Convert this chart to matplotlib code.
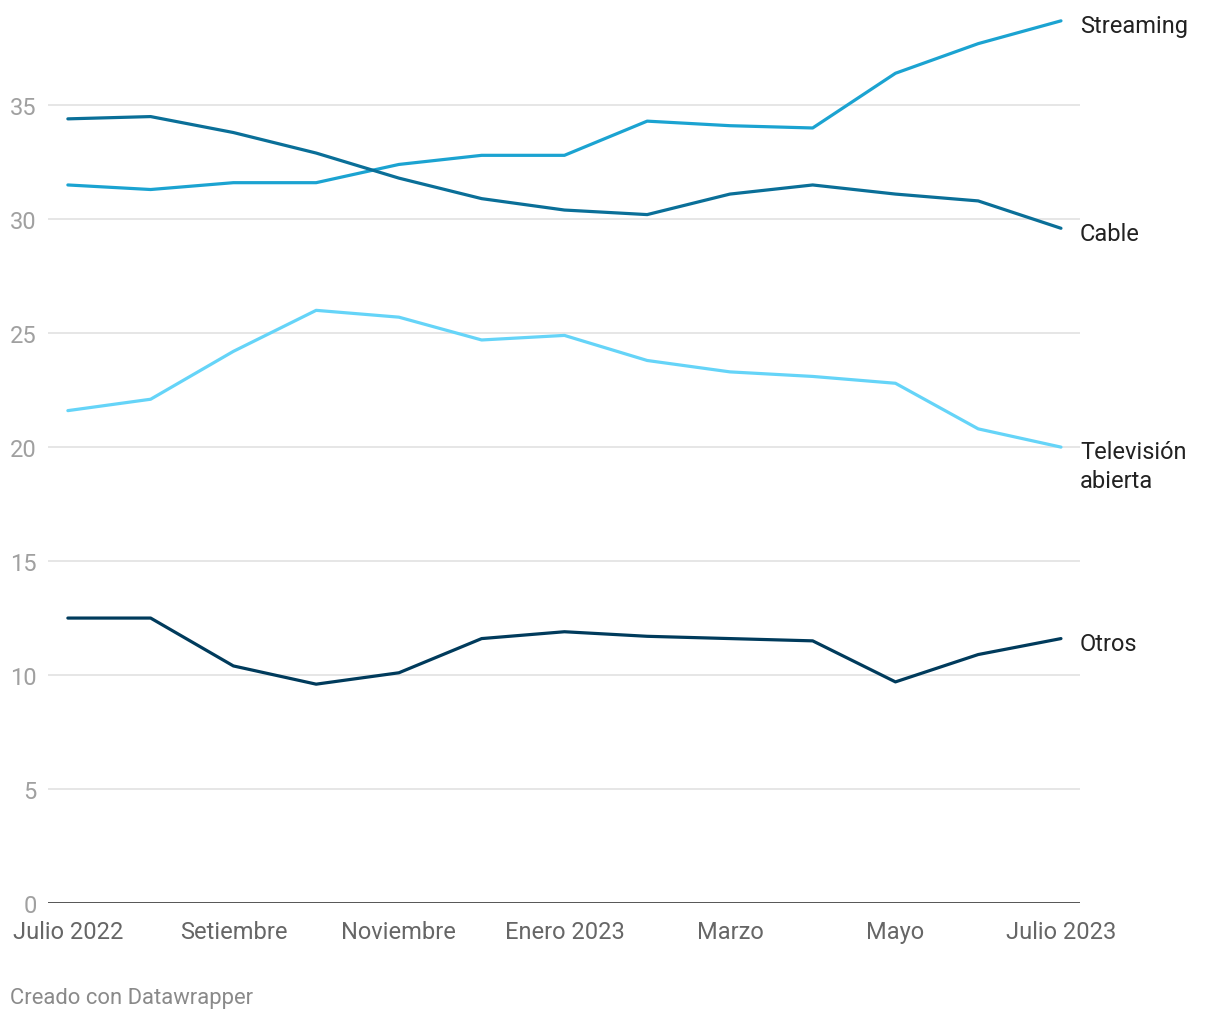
import matplotlib
matplotlib.use("Agg")
import matplotlib.pyplot as plt
import numpy as np

plt.rcParams['font.family'] = ['Roboto', 'DejaVu Sans']

months = ["Julio 2022", "Ago", "Setiembre", "Oct", "Noviembre", "Dic", "Enero 2023",
          "Feb", "Marzo", "Abr", "Mayo", "Jun", "Julio 2023"]
tick_idx = [0, 2, 4, 6, 8, 10, 12]

streaming = [31.5, 31.3, 31.6, 31.6, 32.4, 32.8, 32.8, 34.3, 34.1, 34.0, 36.4, 37.7, 38.7]
cable = [34.4, 34.5, 33.8, 32.9, 31.8, 30.9, 30.4, 30.2, 31.1, 31.5, 31.1, 30.8, 29.6]
tv_abierta = [21.6, 22.1, 24.2, 26.0, 25.7, 24.7, 24.9, 23.8, 23.3, 23.1, 22.8, 20.8, 20.0]
otros = [12.5, 12.5, 10.4, 9.6, 10.1, 11.6, 11.9, 11.7, 11.6, 11.5, 9.7, 10.9, 11.6]

series = [
    ("Streaming", streaming, "#1ba3d1"),
    ("Cable", cable, "#0a6f98"),
    ("Televisión\nabierta", tv_abierta, "#65d4f8"),
    ("Otros", otros, "#003b5c"),
]

fig = plt.figure(figsize=(12.2, 10.2), dpi=100)
ax = fig.add_axes([48/1220, 1-904/1020, (1080-48)/1220, 889/1020])

x = np.arange(len(months))
for name, vals, col in series:
    ax.plot(x, vals, color=col, lw=2.3, solid_capstyle='round', solid_joinstyle='round', zorder=3)
    if "\n" in name:
        ax.annotate(name, xy=(x[-1], vals[-1]), xytext=(13.7, 5), textcoords='offset points',
                    ha='left', va='top', fontsize=17, color='#222222', linespacing=1.32,
                    annotation_clip=False)
    else:
        ax.annotate(name, xy=(x[-1], vals[-1]), xytext=(13.7, -3.5), textcoords='offset points',
                    ha='left', va='center', fontsize=17, color='#222222',
                    annotation_clip=False)

ax.set_xlim(-0.24, 12.23)
ax.set_ylim(0, 39)
ax.set_yticks([0, 5, 10, 15, 20, 25, 30, 35])
for yv in [5, 10, 15, 20, 25, 30, 35]:
    ax.axhline(yv, color='#e2e2e2', lw=1.2, zorder=1)
ax.axhline(0, color='#222222', lw=1.8, zorder=4)

ax.set_xticks(tick_idx)
ax.set_xticklabels([months[i] for i in tick_idx])
for s in ax.spines.values():
    s.set_visible(False)
ax.tick_params(axis='y', length=0, pad=8, labelsize=17, labelcolor='#a0a0a0')
ax.tick_params(axis='x', length=0, pad=12, labelsize=17, labelcolor='#666666')
for lbl in ax.get_yticklabels():
    lbl.set_horizontalalignment('right')

fig.text(10/1220, 1-999/1020, "Creado con Datawrapper", fontsize=15.8, color='#8a8a8a',
         ha='left', va='center')

fig.savefig("out.png", dpi=100)
